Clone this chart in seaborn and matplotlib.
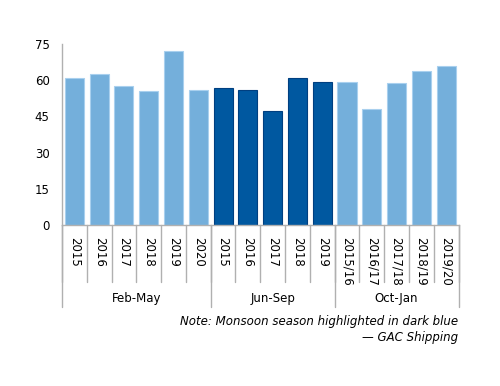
import pandas as pd
import matplotlib
matplotlib.use("Agg")
import matplotlib.pyplot as plt
import matplotlib.transforms as mtransforms
import seaborn as sns

# data
seasons = ["Feb-May", "Jun-Sep", "Oct-Jan"]
feb_may_years = ["2015", "2016", "2017", "2018", "2019", "2020"]
feb_may_vals = [61.0, 62.5, 57.6, 55.6, 72.1, 56.0]
jun_sep_years = ["2015", "2016", "2017", "2018", "2019"]
jun_sep_vals = [56.8, 56.0, 47.1, 60.7, 59.1]
oct_jan_years = ["2015/16", "2016/17", "2017/18", "2018/19", "2019/20"]
oct_jan_vals = [59.3, 47.9, 58.6, 63.7, 65.9]

LIGHT = "#74afdb"
DARK = "#0058a0"
GRID = "#b0b0b0"

groups = [
    ("Feb-May", feb_may_years, feb_may_vals, LIGHT),
    ("Jun-Sep", jun_sep_years, jun_sep_vals, DARK),
    ("Oct-Jan", oct_jan_years, oct_jan_vals, LIGHT),
]

rows = []
for season, years, vals, col in groups:
    for y, v in zip(years, vals):
        rows.append({"season": season, "year": y, "value": v, "color": col})
df = pd.DataFrame(rows)
df["slot"] = [f"{s}|{y}" for s, y in zip(df["season"], df["year"])]

sns.set_style("white")
plt.rcParams["font.family"] = ["DejaVu Sans"]
plt.rcParams["text.color"] = "black"
plt.rcParams["xtick.labelcolor"] = "black"
plt.rcParams["ytick.labelcolor"] = "black"

fig = plt.figure(figsize=(5.0, 3.86), dpi=100)
ax = fig.add_axes([0.124, 0.416, 0.793, 0.471])

sns.barplot(data=df, x="slot", y="value", hue="slot",
            palette=list(df["color"]), legend=False, width=0.77,
            saturation=1, ax=ax)
edge = {LIGHT: "#a9d0ee", DARK: "#003f80"}
for patch, col in zip(ax.patches, df["color"]):
    patch.set_edgecolor(edge[col])
    patch.set_linewidth(0.8)

n = len(df)
ax.set_xlim(-0.5, n - 0.5)
ax.set_ylim(0, 75)
ax.set_yticks([0, 15, 30, 45, 60, 75])
ax.tick_params(axis="y", length=5, color=GRID, width=1, labelsize=8.5, pad=4,
               labelcolor="black")
ax.set_xlabel("")
ax.set_ylabel("")

ax.set_xticks(range(n))
ax.set_xticklabels(df["year"], rotation=-90, fontsize=8.5)
ax.tick_params(axis="x", length=0, pad=8, labelcolor="black")

for side in ["top", "right"]:
    ax.spines[side].set_visible(False)
for side in ["left", "bottom"]:
    ax.spines[side].set_color(GRID)
    ax.spines[side].set_linewidth(1)

trans = mtransforms.blended_transform_factory(ax.transData, ax.transAxes)
h_px = 181.6
# year separators
for b in range(n + 1):
    ax.plot([b - 0.5, b - 0.5], [0, -57 / h_px], color=GRID, lw=1,
            transform=trans, clip_on=False)
# season separators and labels
start = 0
bounds = [0]
for season, years, vals, col in groups:
    end = start + len(years)
    bounds.append(end)
    ax.text((start + end - 1) / 2, -73 / h_px, season, transform=trans,
            ha="center", va="center", fontsize=8.5, color="black")
    start = end
for b in bounds:
    ax.plot([b - 0.5, b - 0.5], [0, -81 / h_px], color=GRID, lw=1,
            transform=trans, clip_on=False)

fig.text(0.917, 1 - 322 / 386, "Note: Monsoon season highlighted in dark blue",
         ha="right", va="center", fontsize=8.5, style="italic", color="black")
fig.text(0.917, 1 - 337 / 386, "\u2014 GAC Shipping",
         ha="right", va="center", fontsize=8.5, style="italic", color="black")

fig.savefig("out.png", dpi=100)
